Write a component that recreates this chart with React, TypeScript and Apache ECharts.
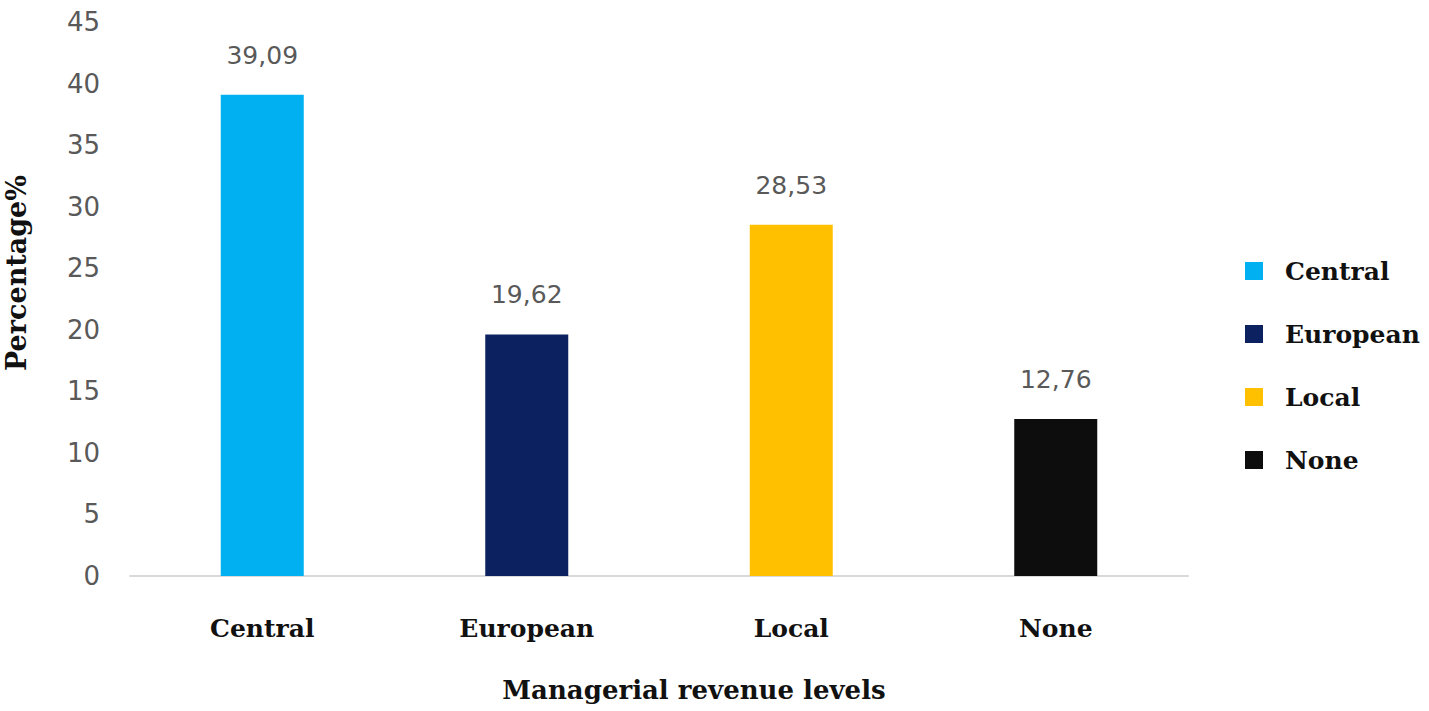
import React, { useEffect, useRef } from "react";
import * as echarts from "echarts";

const categories = ["Central", "European", "Local", "None"];
const values = [39.09, 19.62, 28.53, 12.76];
const colors = ["#00B0F0", "#0C2160", "#FFC000", "#0D0D0D"];
const yTicks = { min: 0, max: 45, interval: 5 };

const SERIF = "DejaVu Serif";
const SANS = "DejaVu Sans";

export default function App() {
  const ref = useRef<HTMLDivElement>(null);
  useEffect(() => {
    if (!ref.current) return;
    const chart = echarts.init(ref.current, null, { renderer: "svg" });
    const series = categories.map((name, i) => ({
      name,
      type: "bar",
      stack: "all",
      barWidth: 83,
      data: categories.map((_, j) => (j === i ? values[i] : null)),
      itemStyle: { color: colors[i] },
      label: {
        show: true,
        position: "top",
        distance: 27,
        color: "#595959",
        fontSize: 25,
        fontFamily: SANS,
        formatter: (p: any) => (p.value == null ? "" : p.value.toFixed(2).replace(".", ",")),
      },
    }));
    chart.setOption({
      animation: false,
      backgroundColor: "#ffffff",
      grid: {
        left: 130,
        right: 241,
        top: 22,
        bottom: 135,
        containLabel: false,
        outerBoundsMode: "none",
      },
      legend: {
        orient: "vertical",
        left: 1240,
        top: 253,
        itemWidth: 18,
        itemHeight: 18,
        itemGap: 37,
        icon: "rect",
        data: categories,
        textStyle: {
          fontFamily: SERIF,
          fontWeight: "bold",
          fontSize: 25,
          lineHeight: 26,
          color: "#111",
          padding: [0, 0, 0, 17],
        },
      },
      xAxis: {
        type: "category",
        data: categories,
        name: "Managerial revenue levels",
        nameLocation: "middle",
        nameGap: 101,
        nameMoveOverlap: false,
        nameTextStyle: {
          fontFamily: SERIF,
          fontWeight: "bold",
          fontSize: 26,
          color: "#111",
          padding: [0, 0, 0, 70],
        },
        axisLine: { lineStyle: { color: "#D9D9D9", width: 2 } },
        axisTick: { show: false },
        axisLabel: {
          margin: 40,
          fontFamily: SERIF,
          fontWeight: "bold",
          fontSize: 25,
          color: "#111",
        },
      },
      yAxis: {
        type: "value",
        min: yTicks.min,
        max: yTicks.max,
        interval: yTicks.interval,
        name: "Percentage%",
        nameLocation: "middle",
        nameGap: 100,
        nameMoveOverlap: false,
        nameTextStyle: {
          fontFamily: SERIF,
          fontWeight: "bold",
          fontSize: 27,
          color: "#111",
          padding: [0, 0, 0, 52],
        },
        splitLine: { show: false },
        axisLine: { show: false },
        axisTick: { show: false },
        axisLabel: { margin: 30, fontFamily: SANS, fontSize: 26, color: "#595959" },
      },
      series,
    });
    return () => chart.dispose();
  }, []);
  return <div ref={ref} style={{ width: 1429, height: 711, position: "absolute", left: 0, top: 0 }} />;
}
